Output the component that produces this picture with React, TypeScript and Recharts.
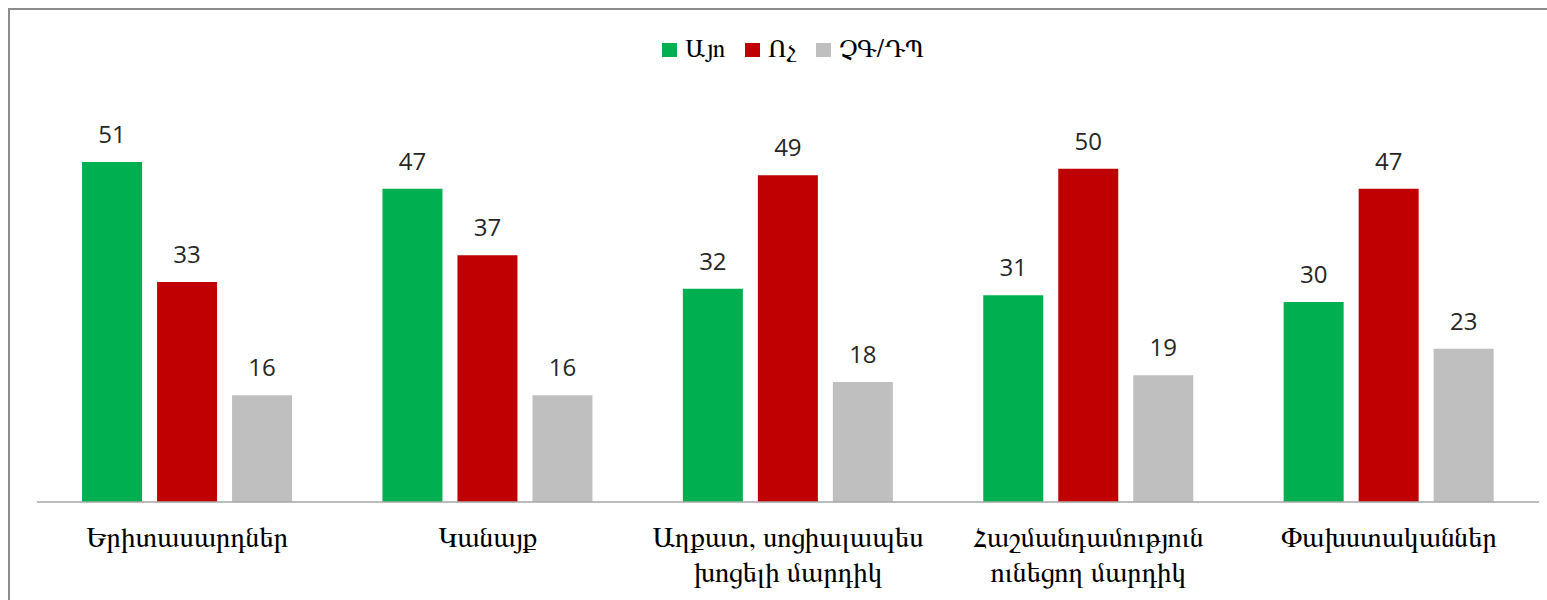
import React from "react";
import { BarChart, Bar, XAxis, YAxis, LabelList } from "recharts";

const categories = [
  "Երիտասարդներ",
  "Կանայք",
  "Աղքատ, սոցիալապես\nխոցելի մարդիկ",
  "Հաշմանդամություն\nունեցող մարդիկ",
  "Փախստականներ",
];
const yesValues = [51, 47, 32, 31, 30];
const noValues = [33, 37, 49, 50, 47];
const dkValues = [16, 16, 18, 19, 23];
const seriesNames = ["Այո", "Ոչ", "ՉԳ/ԴՊ"];
const seriesColors = ["#00B050", "#C00000", "#BFBFBF"];

const data = categories.map((c, i) => ({
  name: c,
  yes: yesValues[i],
  no: noValues[i],
  dk: dkValues[i],
}));

const ARM_FONT = "FreeSerif, 'Noto Serif Armenian', serif";
const NUM_FONT = "'Open Sans', sans-serif";

const Tick = (props: any) => {
  const { x, y, payload } = props;
  const lines = String(payload.value).split("\n");
  return (
    <g>
      {lines.map((l: string, i: number) => (
        <text
          key={i}
          x={x}
          y={y + 45 + i * 35}
          textAnchor="middle"
          fontFamily={ARM_FONT}
          fontSize={28.5}
          fill="#000"
        >
          {l}
        </text>
      ))}
    </g>
  );
};

export default function App() {
  return (
    <div
      style={{
        position: "absolute",
        left: 8,
        top: 8,
        width: 1539,
        height: 592,
        overflow: "hidden",
        borderLeft: "2px solid #8c8c8c",
        borderTop: "2px solid #8c8c8c",
        boxSizing: "border-box",
        background: "#fff",
      }}
    >
      <div
        style={{
          position: "absolute",
          top: 26,
          left: 0,
          width: 1566,
          display: "flex",
          justifyContent: "center",
          gap: 20,
          fontFamily: ARM_FONT,
          fontSize: 25,
          lineHeight: "28px",
          color: "#000",
          alignItems: "center",
        }}
      >
        {seriesNames.map((n, i) => (
          <div key={n} style={{ display: "flex", alignItems: "center", gap: 8 }}>
            <div style={{ width: 15, height: 14, background: seriesColors[i] }} />
            <span>{n}</span>
          </div>
        ))}
      </div>
      <BarChart
        width={1537}
        height={590}
        data={data}
        margin={{ top: 92, right: 8, bottom: 8, left: 27 }}
        barCategoryGap="15%"
        barGap={15}
      >
        <YAxis hide domain={[0, 60]} />
        <XAxis
          dataKey="name"
          height={90}
          tickLine={false}
          tickSize={0}
          tickMargin={0}
          axisLine={{ stroke: "#A6A6A6", strokeWidth: 1.5 }}
          tick={<Tick />}
          interval={0}
        />
        <Bar dataKey="yes" fill={seriesColors[0]} isAnimationActive={false}>
          <LabelList dataKey="yes" position="top" offset={19} fontFamily={NUM_FONT} fontSize={24} fill="#262626" />
        </Bar>
        <Bar dataKey="no" fill={seriesColors[1]} isAnimationActive={false}>
          <LabelList dataKey="no" position="top" offset={19} fontFamily={NUM_FONT} fontSize={24} fill="#262626" />
        </Bar>
        <Bar dataKey="dk" fill={seriesColors[2]} isAnimationActive={false}>
          <LabelList dataKey="dk" position="top" offset={19} fontFamily={NUM_FONT} fontSize={24} fill="#262626" />
        </Bar>
      </BarChart>
    </div>
  );
}
